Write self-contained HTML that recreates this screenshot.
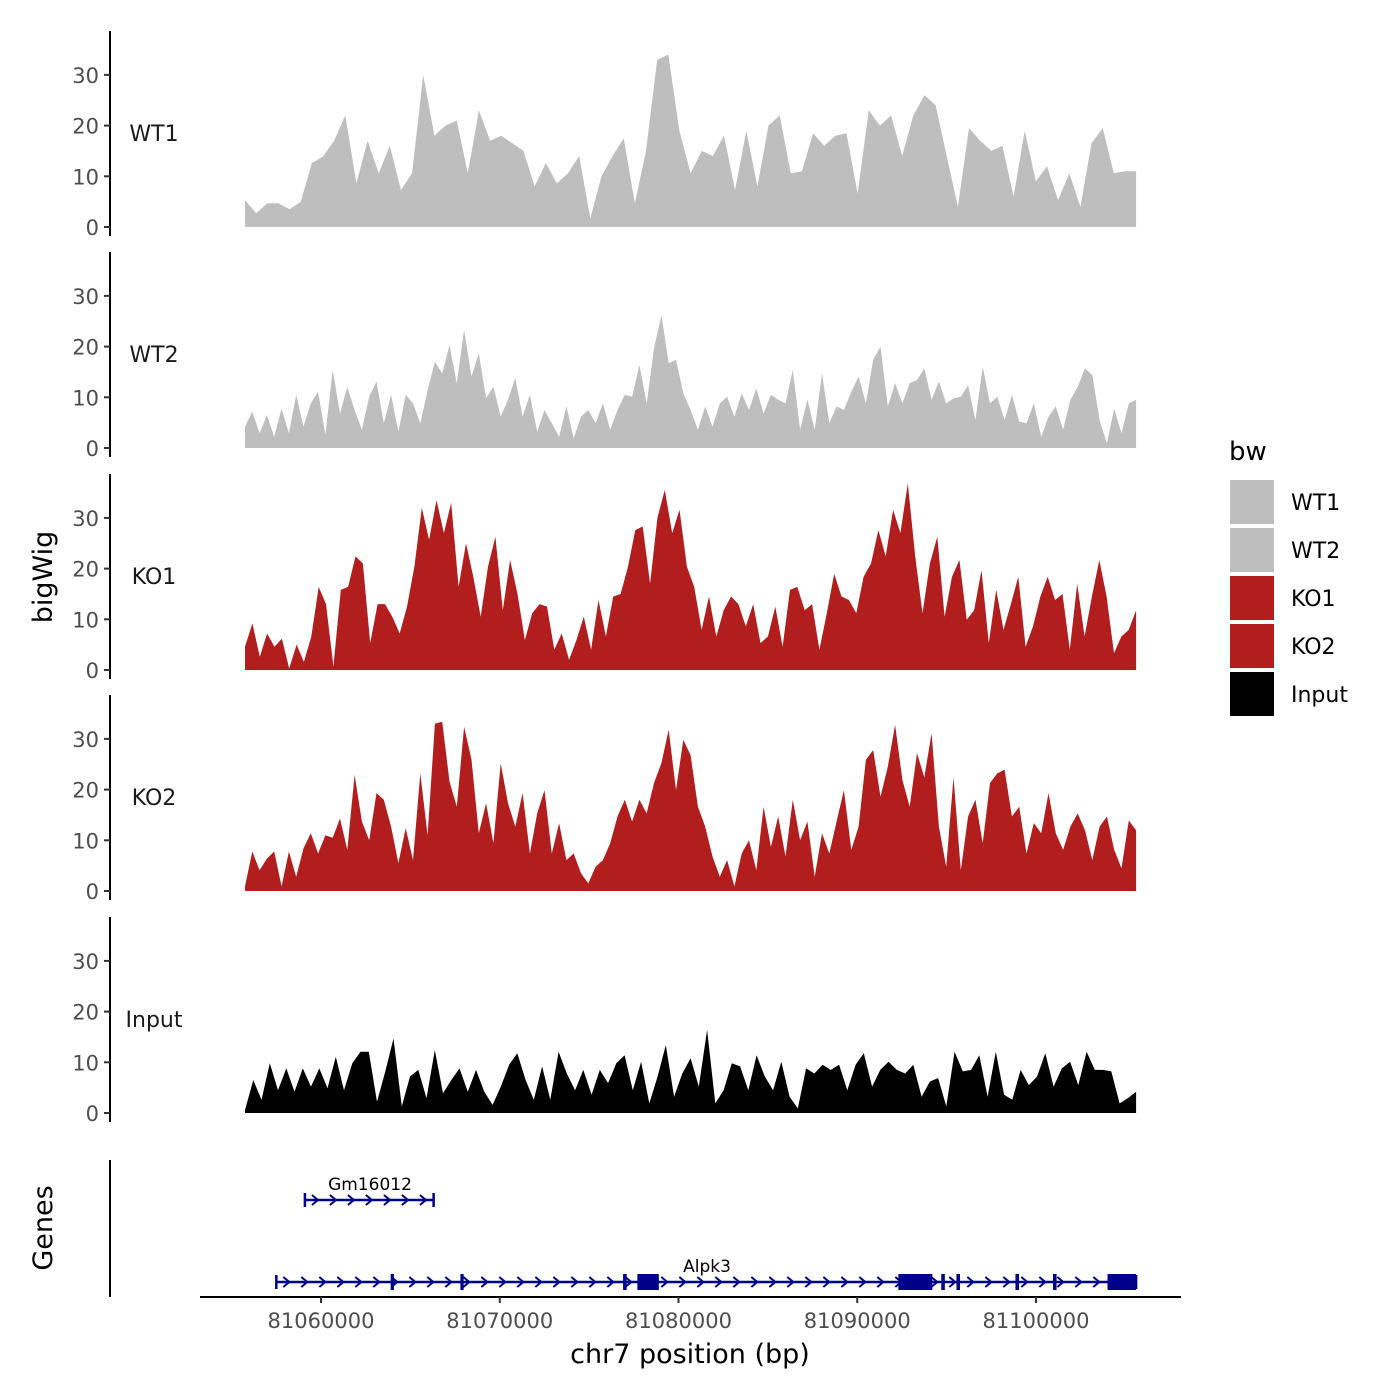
<!DOCTYPE html>
<html><head><meta charset="utf-8"><style>
body{margin:0;background:#fff;}
svg{display:block;font-family:"DejaVu Sans","Liberation Sans",sans-serif;}
</style></head><body>
<svg id="chart" width="1400" height="1400" viewBox="0 0 1400 1400" xmlns="http://www.w3.org/2000/svg">
<rect width="1400" height="1400" fill="#fff"/>
<g id="tracks"></g>
<g id="genes"></g>
<text x="0" y="0" transform="translate(52,577) rotate(-90)" text-anchor="middle" font-size="27" fill="#000">bigWig</text>
<text x="0" y="0" transform="translate(52,1228) rotate(-90)" text-anchor="middle" font-size="27" fill="#000">Genes</text>
<text x="690" y="1363" text-anchor="middle" font-size="27" fill="#000">chr7 position (bp)</text>
<g id="legend">
<text x="1229" y="460" font-size="26">bw</text>
</g>
</svg>
<script>
const trackNames = ["WT1","WT2","KO1","KO2","Input"];
const trackColors = ["#bebebe","#bebebe","#b21e1e","#b21e1e","#000000"];
const yTicks = [0,10,20,30];
const xTicks = [81060000,81070000,81080000,81090000,81100000];
const startBp = 81055750, endBp = 81105600;
const wt1 = [5.3,2.7,4.7,4.7,3.5,5,12.6,13.9,17,22,8.6,17,10.6,16,7.3,10.6,30,18,20,21,10.6,23,17,18,16.5,15,8,12.6,8.6,10.6,14,1.7,10,14,17.5,4.7,15,33,34,19,10.6,15,14,18,7.3,19,8,20,22,10.6,11,18.5,16,18,18.5,6.6,23,20,22,14,22,26,24,14,4,19.5,17,15,16,6,19,9,12,5.3,10.6,4,16.5,19.5,10.6,11,11];
const wt2 = [4.2,7.2,2.9,6.5,2.2,7.8,2.9,10.5,4.2,8.8,11.1,2.6,15.4,6.8,12.1,7.5,3.6,10.1,13.1,4.9,10.5,3.2,10.5,8.8,4.9,11.4,17,14.7,20.3,12.8,23.3,14.1,18.7,9.8,12.1,6.2,9.5,13.8,6.2,10.5,3.2,7.5,4.9,2.2,8.2,1.9,6.2,7.5,4.9,8.8,3.6,7.5,10.5,10.1,16.4,8.8,19.7,26.2,16.7,17.4,10.8,7.5,3.6,8.2,4.2,8.8,10.1,6.2,10.8,7.5,11.8,6.8,10.5,9.5,8.8,15.4,3.6,9.5,3.6,14.7,4.9,8.2,7.5,11.1,14.1,8.8,17.4,20,8.2,12.8,8.8,12.8,13.4,15.7,9.5,13.1,8.8,9.8,10.1,12.4,5.5,16,8.8,10.1,5.5,10.5,5.2,4.9,8.8,2.2,6.2,8.2,3.6,9.5,12.1,15.7,14.4,5.5,0.9,7.8,2.9,8.8,9.5];
const ko1 = [4.6,9.2,2.6,7.2,4.6,6.2,0.3,5,1.6,6.6,16.4,13,0.7,15.8,16.4,22.4,21,5.3,13,13,10.5,7.2,12.5,20.4,32,25.7,33.5,27,33,16.4,25,18.4,10.5,20.4,26.3,11.8,21.7,15,5.9,11.2,13,12.5,4,7.2,2,5.9,10.5,4,13.8,6.6,14.5,15,20.4,27.6,28.3,17,30,35.5,27,31.6,20.4,16.4,7.9,14.5,6.6,11.8,14.5,13,8.6,13,5.3,6.6,12.5,4.6,15.8,16.4,11.8,13,4,11.2,19,14.5,13.8,11.2,18.4,21,27.6,22.4,31.6,27,36.8,22.4,11.2,21,26.3,10.5,18.4,21.7,9.9,11.8,19.7,5.3,15.8,7.9,13,18.4,4.6,8.6,14.5,18.4,13.8,15,4,17,6.6,14.5,21.7,14.5,3.3,6.6,7.9,11.8];
const ko2 = [0.9,7.8,4.1,6.4,7.8,0.9,7.8,2.8,8.4,11.4,7.4,11,10.5,14.3,8.1,22.9,13.7,10,19.3,18,12.7,5.5,12.4,6.1,23.2,11,33,33.4,21.6,16.6,32.4,25.9,11.4,17.3,9.4,25.2,17.3,12.7,19.3,7.4,15.3,19.9,7.4,13.4,6.1,7.4,3.5,1.5,4.8,6.1,9.4,14.7,18,13.7,18,15.3,21.3,25.2,31.8,19.9,29.8,26.8,16.6,12.7,6.8,2.8,6.1,0.9,7.4,10,4.1,16.6,8.7,14.7,6.8,18,10,13.7,2.8,11.4,7.4,13.7,19.9,8.1,12.7,25.9,27.8,18.6,24.5,32.8,21.9,16.6,27.2,22.4,31.1,12.7,4.8,22.4,4.1,14.7,18,9.4,21.3,23.2,23.9,14.7,16.6,7.4,13.4,11.4,19.3,11.4,8.1,12.7,15.3,12,6.1,12.7,14.7,8.1,4.5,13.9,12];
const input = [0.6,6.5,2.6,9.8,4.5,8.8,4.2,8.8,5.2,8.8,4.9,11.1,4.5,9.8,12.1,12.1,2.2,8.2,14.7,1.3,7.2,8.5,2.9,12.4,3.9,6.5,8.8,4.2,8.5,4.2,1.6,5.2,9.5,11.8,6.5,2.6,9.2,2.6,12.1,7.8,4.5,8.5,3.6,8.5,5.9,9.8,11.4,4.5,10.1,1.9,7.2,13.4,3.2,7.8,10.8,5.2,16.4,1.9,4.5,9.8,9.2,4.5,11.4,7.2,4.5,10.1,3.2,0.9,8.8,7.8,9.5,8.5,9.5,4.5,9.5,11.8,5.2,8.5,10.1,8.5,7.8,9.5,3.2,6.2,6.9,1.3,12.1,8.2,8.5,11.4,3.2,12.1,3.6,2.6,8.5,5.5,7.2,11.8,5.2,8.8,10.1,5.5,12.1,8.5,8.5,8.2,1.9,2.9,4.2];
const series = [wt1,wt2,ko1,ko2,input];
const geneNames = ["Gm16012","Alpk3"];
const geneStarts = [81059100,81057500];
const geneEnds = [81066300,81105600];
const alpk3ExonStarts = [81063900,81067800,81076900,81077700,81092300,81094700,81095550,81098850,81100950,81104000];
const alpk3ExonEnds = [81064080,81067980,81077100,81078900,81094200,81094900,81095750,81099050,81101150,81105600];

const NS="http://www.w3.org/2000/svg";
function mk(tag,attrs,parent){const e=document.createElementNS(NS,tag);for(const k in attrs)e.setAttribute(k,attrs[k]);parent.appendChild(e);return e;}
const xScale = bp => 321 + (bp-81060000)*178.75/10000;
const zeros = [227,448,670,891,1113];
const yScale = (i,v) => zeros[i] - v*5.07;
const tracks=document.getElementById('tracks');
series.forEach((vals,i)=>{
  const g=mk('g',{},tracks);
  
  
  const ax=mk('line',{x1:110,x2:110,y1:zeros[i]-196,y2:zeros[i]+9,stroke:'#000','stroke-width':2},g);
  
  
  yTicks.forEach(t=>{
    const y=yScale(i,t);
    mk('line',{x1:104,x2:110,y1:y,y2:y,stroke:'#333','stroke-width':2},g);
    const tx=mk('text',{x:99,y:y+8,'text-anchor':'end','font-size':21,fill:'#4d4d4d'},g);
    tx.textContent=t;
    
    
  });
  const lab=mk('text',{x:154,y:zeros[i]-86,'text-anchor':'middle','font-size':22,fill:'#1a1a1a'},g);
  lab.textContent=trackNames[i];
  
  
  const n=vals.length;
  let d='M'+xScale(startBp)+','+zeros[i];
  vals.forEach((v,j)=>{const bp=startBp+(endBp-startBp)*j/(n-1);d+=' L'+xScale(bp).toFixed(1)+','+yScale(i,v).toFixed(1);});
  d+=' L'+xScale(endBp)+','+zeros[i]+' Z';
  const p=mk('path',{d:d,fill:trackColors[i]},g);
  
  
});
const gg=document.getElementById('genes');
const gax=mk('line',{x1:110,x2:110,y1:1160,y2:1297,stroke:'#000','stroke-width':2},gg);


const xax=mk('line',{x1:200,x2:1181,y1:1297,y2:1297,stroke:'#000','stroke-width':2},gg);


xTicks.forEach(t=>{
  const x=xScale(t);
  mk('line',{x1:x,x2:x,y1:1297,y2:1303,stroke:'#333','stroke-width':2},gg);
  const tx=mk('text',{x:x,y:1328,'text-anchor':'middle','font-size':21,fill:'#4d4d4d'},gg);
  tx.textContent=t;
  
  
});
const geneY=[1200,1282];
geneNames.forEach((nm,i)=>{
  const g=mk('g',{},gg);
  
  
  const x1=xScale(geneStarts[i]),x2=xScale(geneEnds[i]),y=geneY[i];
  mk('line',{x1:x1,x2:x2,y1:y,y2:y,stroke:'#00008b','stroke-width':2.5},g);
  mk('line',{x1:x1,x2:x1,y1:y-7,y2:y+7,stroke:'#00008b','stroke-width':2.5},g);
  mk('line',{x1:x2,x2:x2,y1:y-7,y2:y+7,stroke:'#00008b','stroke-width':2.5},g);
  for(let x=x1+10;x<x2-6;x+=18){mk('path',{d:`M${x-3},${y-5} L${x+3},${y} L${x-3},${y+5}`,fill:'none',stroke:'#00008b','stroke-width':2},g);}
  const lab=mk('text',{x:(i==0?370:707),y:y-10,'text-anchor':'middle','font-size':17,fill:'#000'},g);
  lab.textContent=nm;
  
  
});
alpk3ExonStarts.forEach((s,k)=>{
  const x=xScale(s),w=xScale(alpk3ExonEnds[k])-x;
  const r=mk('rect',{x:x,y:1274,width:w,height:16,fill:'#00008b'},gg);
  
  
});
const lg=document.getElementById('legend');
trackNames.forEach((nm,i)=>{
  const y=480+i*48;
  const r=mk('rect',{x:1230,y:y,width:44,height:44,fill:trackColors[i]},lg);
  
  
  const t=mk('text',{x:1291,y:y+30,'font-size':22,fill:'#000'},lg);
  t.textContent=nm;
  
  
});
</script>
</body></html>
